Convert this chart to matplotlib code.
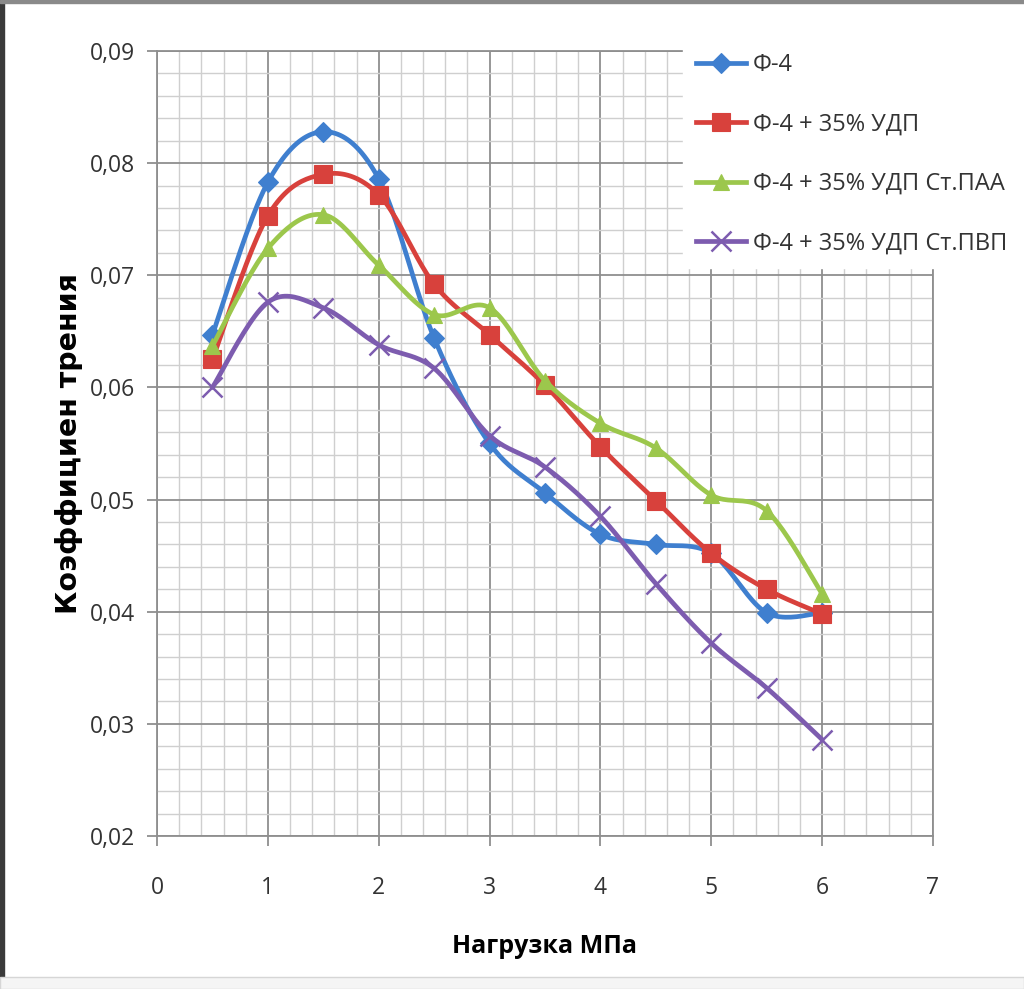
import matplotlib.pyplot as plt
import matplotlib.patches as mpatches
from matplotlib.ticker import MultipleLocator, FuncFormatter
import numpy as np

# Load (MPa) and friction coefficient for each composition
load = [0.5, 1, 1.5, 2, 2.5, 3, 3.5, 4, 4.5, 5, 5.5, 6]
f4 = [0.0647, 0.0783, 0.0828, 0.0786, 0.0644, 0.0550, 0.0506, 0.0469, 0.0460, 0.0452, 0.0399, 0.0399]
f4_udp = [0.0625, 0.0753, 0.0790, 0.0772, 0.0692, 0.0647, 0.0602, 0.0547, 0.0499, 0.0452, 0.0420, 0.0398]
f4_udp_paa = [0.0637, 0.0724, 0.0754, 0.0709, 0.0665, 0.0671, 0.0606, 0.0568, 0.0546, 0.0504, 0.0490, 0.0416]
f4_udp_pvp = [0.0600, 0.0676, 0.0671, 0.0638, 0.0617, 0.0557, 0.0529, 0.0485, 0.0425, 0.0372, 0.0332, 0.0286]

labels = ['Ф-4', 'Ф-4 + 35% УДП', 'Ф-4 + 35% УДП Ст.ПАА', 'Ф-4 + 35% УДП Ст.ПВП']
colors = ['#3f7fcf', '#d8413c', '#9cc74c', '#7d5caf']
markers = ['D', 's', '^', 'x']
msizes = [10, 13, 12, 14]

FONT = ['Open Sans', 'DejaVu Sans']


def smooth(xs, ys, steps=24):
    # Excel-like smoothed line: cubic Bezier segments, Catmull-Rom control points
    xs = np.asarray(xs, float)
    ys = np.asarray(ys, float)
    px = np.concatenate([[xs[0]], xs, [xs[-1]]])
    py = np.concatenate([[ys[0]], ys, [ys[-1]]])
    t = np.linspace(0, 1, steps)
    outx, outy = [], []
    for i in range(1, len(px) - 2):
        p0 = np.array([px[i], py[i]])
        p3 = np.array([px[i + 1], py[i + 1]])
        c1 = p0 + (p3 - np.array([px[i - 1], py[i - 1]])) / 6
        c2 = p3 - (np.array([px[i + 2], py[i + 2]]) - p0) / 6
        b = ((1 - t) ** 3)[:, None] * p0 + (3 * (1 - t) ** 2 * t)[:, None] * c1 \
            + (3 * (1 - t) * t ** 2)[:, None] * c2 + (t ** 3)[:, None] * p3
        outx.extend(b[:, 0])
        outy.extend(b[:, 1])
    return outx, outy


fig = plt.figure(figsize=(10.24, 9.89), dpi=100)
ax = fig.add_axes([157 / 1024, 1 - 836 / 989, 776 / 1024, 785 / 989])

series = [f4, f4_udp, f4_udp_paa, f4_udp_pvp]
for vals, lab, col, mk, ms in zip(series, labels, colors, markers, msizes):
    mew = 1.8 if mk == 'x' else 0.8
    sx, sy = smooth(load, vals)
    ax.plot(sx, sy, color=col, lw=3.4, solid_capstyle='round')
    ax.plot(load, vals, linestyle='none', marker=mk, markersize=ms, color=col, markeredgewidth=mew)
    # proxy artist for the legend
    ax.plot([], [], color=col, lw=3.4, marker=mk, markersize=ms, markeredgewidth=mew, label=lab)

ax.set_xlim(0, 7)
ax.set_ylim(0.02, 0.09)
ax.xaxis.set_major_locator(MultipleLocator(1))
ax.xaxis.set_minor_locator(MultipleLocator(0.2))
ax.yaxis.set_major_locator(MultipleLocator(0.01))
ax.yaxis.set_minor_locator(MultipleLocator(0.002))
ax.yaxis.set_major_formatter(FuncFormatter(lambda v, p: f'{v:.2f}'.replace('.', ',')))
ax.xaxis.set_major_formatter(FuncFormatter(lambda v, p: f'{v:.0f}'))

ax.grid(which='minor', color='#cfcfcf', lw=1.0)
ax.grid(which='major', color='#8f8f8f', lw=1.3)
ax.set_axisbelow(True)
for s in ax.spines.values():
    s.set_color('#8f8f8f')
    s.set_linewidth(1.3)

ax.tick_params(which='major', direction='out', length=7, width=1.3, color='#8f8f8f',
               labelsize=16.5, labelcolor='#333333')
ax.tick_params(axis='y', pad=9)
ax.tick_params(axis='x', pad=22)
ax.tick_params(which='minor', length=0)
for lbl in ax.get_xticklabels() + ax.get_yticklabels():
    lbl.set_family(FONT)

ax.set_xlabel('Нагрузка МПа', fontsize=18, fontweight='bold', family=FONT)
ax.xaxis.set_label_coords(0.5, -0.125)
ax.set_ylabel('Коэффициен трения', fontsize=20.5, fontweight='bold', family='DejaVu Sans')
ax.yaxis.set_label_coords(-0.096, 0.5)

leg = ax.legend(loc='upper left', bbox_to_anchor=(683 / 1024, 1 - 40 / 989),
                bbox_transform=fig.transFigure, frameon=True, fancybox=False,
                borderpad=0.55, handlelength=2.1, handletextpad=0.3, labelspacing=1.5,
                prop={'family': FONT, 'size': 17}, borderaxespad=0)
leg.get_frame().set_facecolor('white')
leg.get_frame().set_edgecolor('white')
leg.get_frame().set_alpha(1)
for t in leg.get_texts():
    t.set_color('#333333')

# screenshot border
fig.patches.append(mpatches.Rectangle((0, 0), 4 / 1024, 1, transform=fig.transFigure,
                                      color='#3a3a3a', zorder=10))
fig.patches.append(mpatches.Rectangle((0, 1 - 3 / 989), 1, 3 / 989, transform=fig.transFigure,
                                      color='#8a8a8a', zorder=10))
fig.patches.append(mpatches.Rectangle((0, 0), 1, 12 / 989, transform=fig.transFigure,
                                      facecolor='#f5f5f5', edgecolor='#d6d6d6', lw=1, zorder=10))

fig.savefig('out.png', dpi=100)
